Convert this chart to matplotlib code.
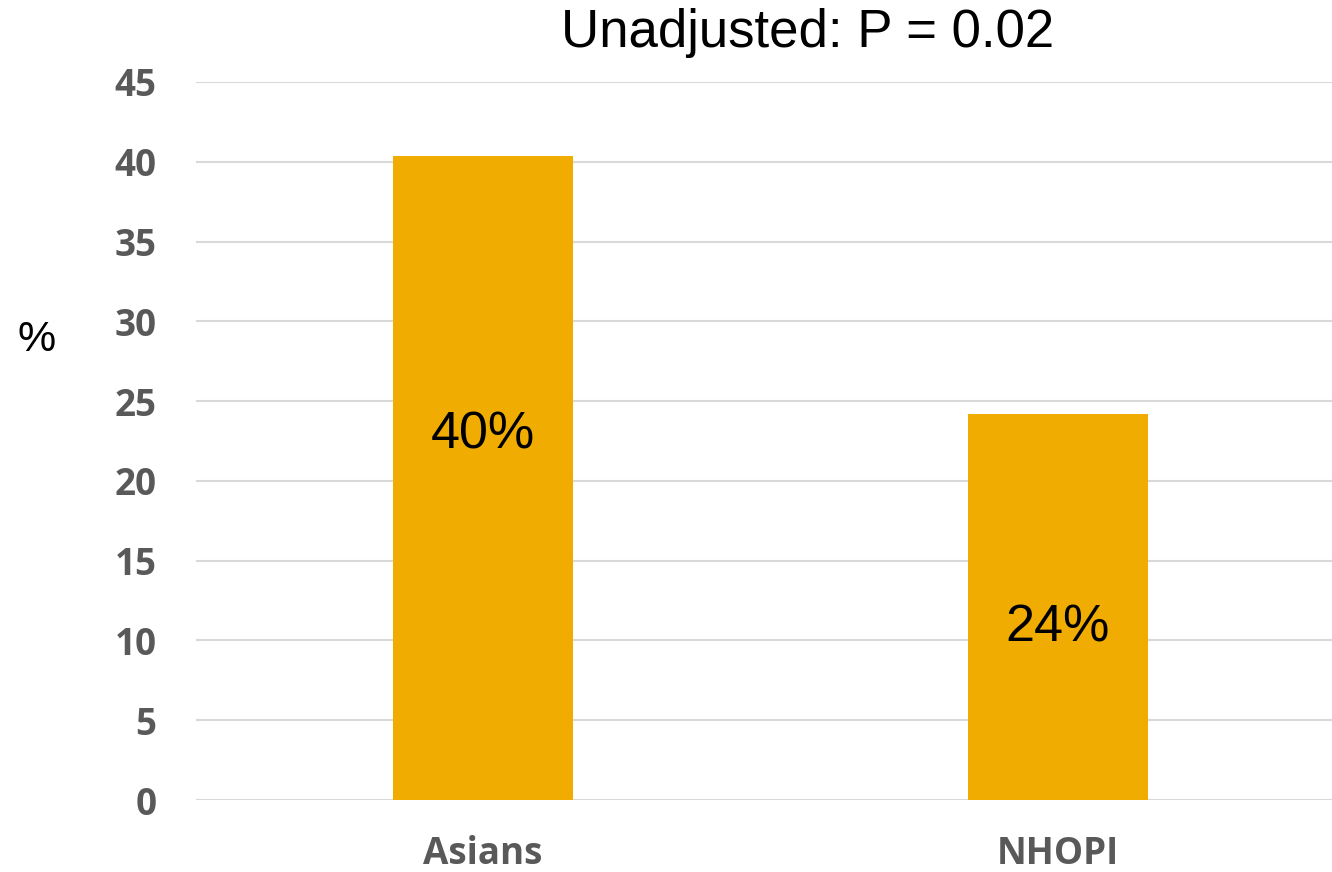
import matplotlib
matplotlib.use('Agg')
import matplotlib.pyplot as plt

# Share of each group (percent)
groups = ['Asians', 'NHOPI']
percents = [40.35, 24.2]
yticks = [0, 5, 10, 15, 20, 25, 30, 35, 40, 45]

# where the value labels sit inside the bars
label_y = [22.9, 10.8]

fig = plt.figure(figsize=(13.32, 8.72), dpi=100)
W, H = 1332, 872
ax = fig.add_axes([195.5 / W, (H - 800) / H, 1150 / W, 718 / H])

x = range(len(groups))
ax.bar(x, percents, width=0.313, color='#F0AC00', zorder=3)

for i, (v, ly) in enumerate(zip(percents, label_y)):
    ax.text(i, ly, f'{v:.0f}%', ha='center', va='center', fontsize=37.5,
            family='Liberation Sans', color='black', zorder=4)

ax.set_xlim(-0.5, 1.5)
ax.set_ylim(0, 45)
ax.set_yticks(yticks)
ax.set_xticks(list(x))
ax.set_xticklabels(groups)
ax.grid(axis='y', color='#D9D9D9', linewidth=1.5, zorder=0)
ax.set_axisbelow(True)
for s in ax.spines.values():
    s.set_visible(False)
ax.tick_params(axis='both', length=0, labelsize=26.5, labelcolor='#595959')
ax.tick_params(axis='y', pad=28)
ax.tick_params(axis='x', pad=25)
for lab in ax.get_xticklabels() + ax.get_yticklabels():
    lab.set_fontweight('bold')
    lab.set_family('Open Sans')

fig.text(37 / W, 1 - 340 / H, '%', ha='center', va='center', fontsize=31,
         family='Liberation Sans')
fig.text(808 / W, 1 - 33 / H, 'Unadjusted: P = 0.02', ha='center', va='center',
         fontsize=38, family='Liberation Sans')

fig.savefig('out.png', dpi=100)
